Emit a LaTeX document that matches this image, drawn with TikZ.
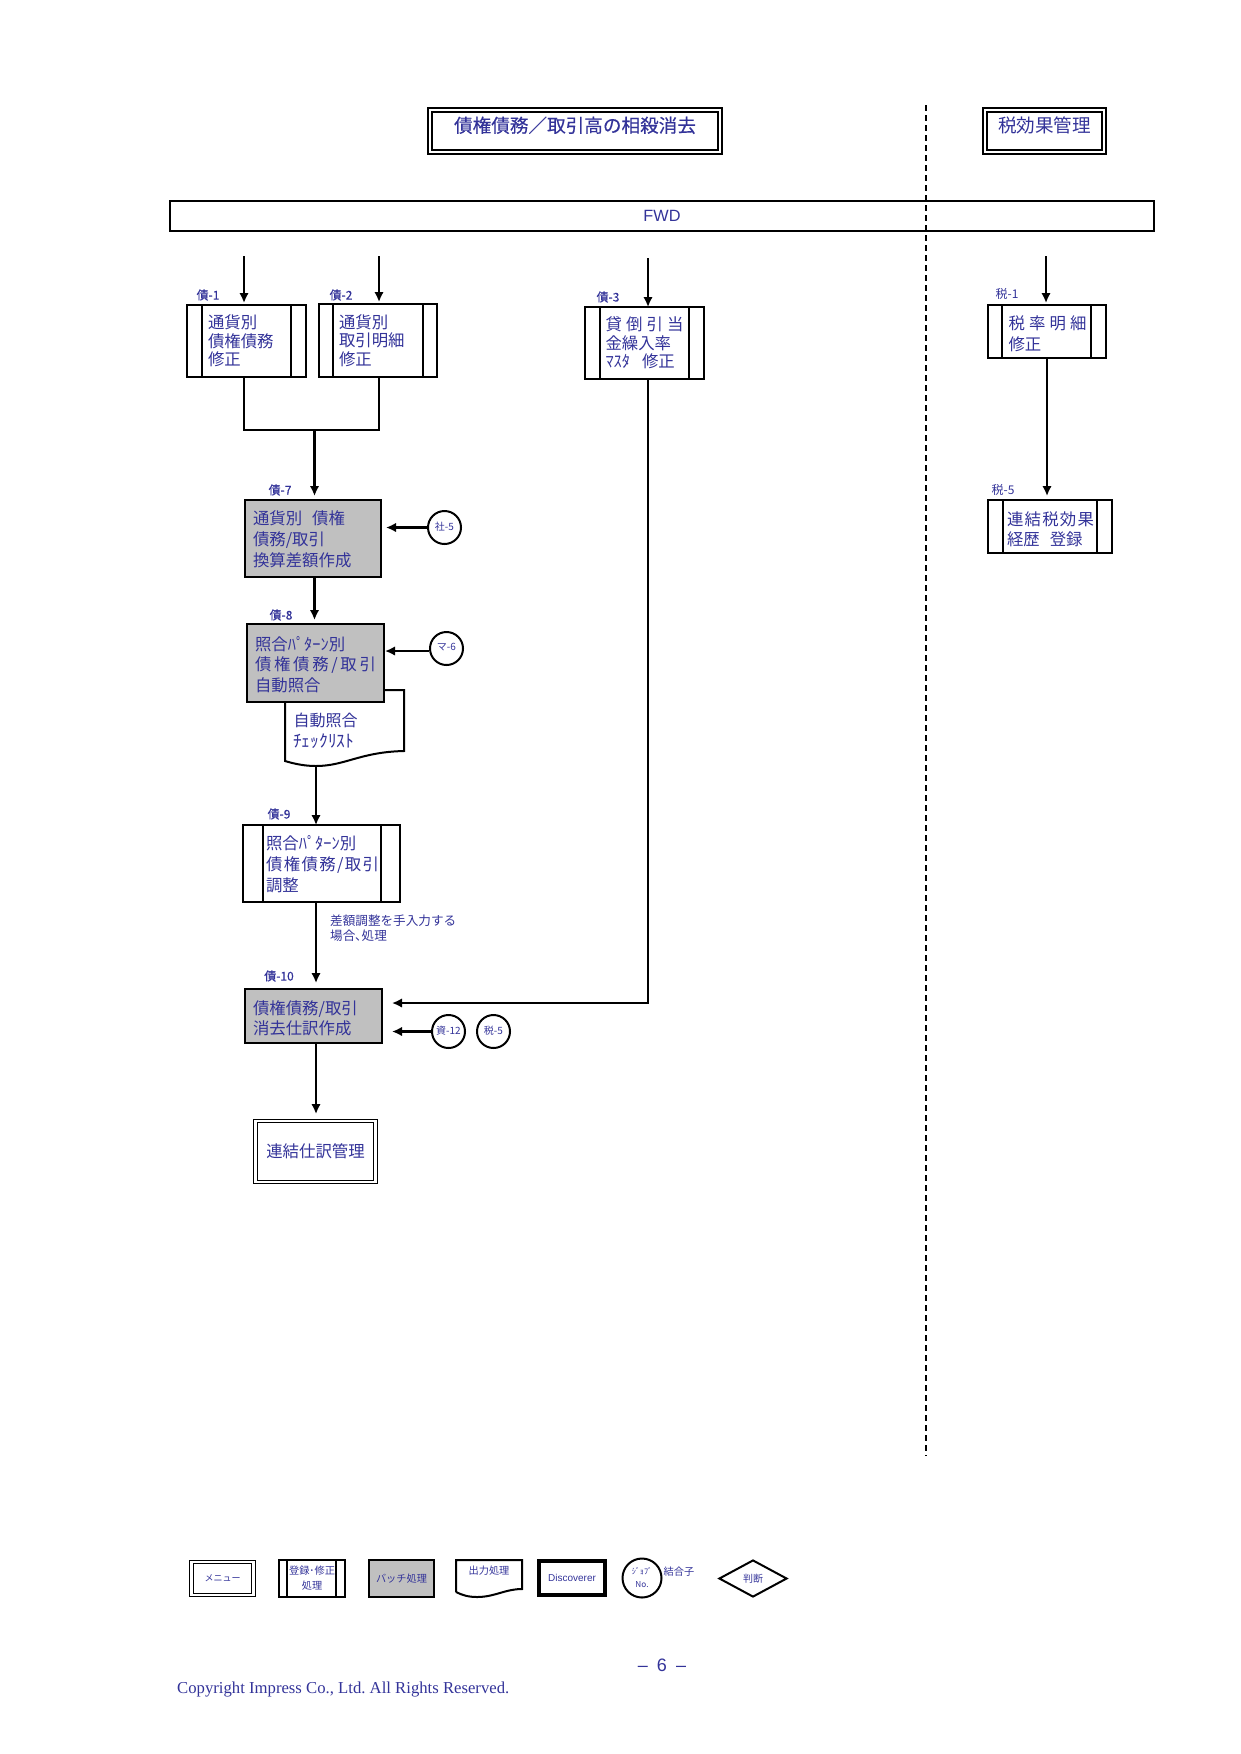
\documentclass[tikz,border=0pt]{standalone}
\usepackage{fontspec}
\setmainfont{Noto Sans CJK JP}
\newfontfamily\latfont{Liberation Sans}
\newfontfamily\serfont{Liberation Serif}
\newfontfamily\semib[FakeBold=0.35]{Noto Sans CJK JP}
\usetikzlibrary{arrows.meta,shapes.geometric,calc}
\definecolor{ink}{HTML}{333399}
\definecolor{batch}{HTML}{C0C0C0}
\newcommand\dn[1]{\rule{0pt}{#1pt}}
\tikzset{
  x=1pt,y=-1pt,
  arr/.style={draw=black,line width=2.3pt,-{Latex[length=10pt,width=9.5pt]}},
  plain/.style={draw=black,line width=2pt},
  boxbase/.style={rectangle,draw=black,line width=2.5pt,text=ink,inner ysep=0pt,outer sep=0pt,
     align=left,font=\fontsize{16.4}{21}\selectfont},
  ls/.style={font=\fontsize{16.4}{#1}\selectfont},
  gray box/.style={fill=batch},
  cen/.style={align=center},
  frame/.style={line width=2pt,double=white,double distance=1.5pt},
  thinframe/.style={line width=1.2pt,double=white,double distance=2.2pt},
  idlabel/.style={text=ink,inner sep=0pt,font=\semib\fontsize{12}{14}\selectfont},
  idplain/.style={text=ink,inner sep=0pt,font=\fontsize{12}{14}\selectfont},
  note/.style={text=ink,inner sep=0pt,align=left,font=\fontsize{12.6}{15}\selectfont},
  jobcircle/.style={circle,draw=black,line width=2pt,minimum size=33pt,inner sep=0pt,text=ink,
     font=\fontsize{10}{11}\selectfont},
  smalltext/.style={text=ink,inner sep=0pt,font=\fontsize{10.2}{13}\selectfont},
  dashdiv/.style={draw=black,line width=1.5pt,dash pattern=on 6pt off 4pt},
}
% [options]{name}{x1}{y1}{x2}{y2}{left inset}{text}
\newcommand\bx[8][]{\node[boxbase,inner xsep=#7pt,text width={#5pt-#3pt-2*#7pt},minimum height={#6pt-#4pt},#1]
  (#2) at ({(#3+#5)/2},{(#4+#6)/2}) {#8};}
% vertical inner lines of a process box
\newcommand\sides[3]{\draw[draw=black,line width=2.2pt] ([xshift=#2pt]#1.north west) -- ([xshift=#2pt]#1.south west)
  ([xshift=-#3pt]#1.north east) -- ([xshift=-#3pt]#1.south east);}
\begin{document}
\begin{tikzpicture}
\useasboundingbox (0,0) rectangle (1241,1754);
% headers
\bx[cen,frame,font=\semib\fontsize{18.6}{22}\selectfont]{title}{430}{110}{720}{152}{4}{\raisebox{13pt}{債権債務／取引高の相殺消去}}
\bx[cen,frame,font=\fontsize{18.6}{22}\selectfont]{taxtitle}{985}{110}{1104}{152}{4}{\raisebox{13pt}{税効果管理}}
\bx[cen,line width=2pt,font=\latfont\fontsize{16.3}{20}\selectfont]{fwd}{170}{201}{1154}{230.5}{4}{FWD}
\coordinate (divtop) at (926,105);
\coordinate (divbot) at (926,1456);
\draw[dashdiv] (divtop) -- (divbot);

% entry points
\coordinate (e1) at (244,256);
\coordinate (e2) at (379,256);
\coordinate (e3) at (648,258);
\coordinate (e4) at (1046,256);
\coordinate (e5) at (1047,430);

% process boxes
\bx[ls=18.6]{k1}{187}{305}{306}{377}{21}{通貨別\\債権債務\\修正}
\sides{k1}{15}{15}
\bx[ls=18.6]{k2}{319}{304}{437}{377}{20}{通貨別\\取引明細\\修正}
\sides{k2}{14}{14}
\bx[ls=18.6]{k3}{585}{307}{704}{379}{20.5}{\mbox{\makebox[78pt][s]{貸\hfil 倒\hfil 引\hfil 当}}\\金繰入率\\\mbox{ﾏｽﾀ\hspace{12pt}修正}}
\sides{k3}{15}{15}
\bx[ls=21.5]{t1}{988}{305}{1106}{358}{20.5}{\dn{18.5}\mbox{\makebox[78pt][s]{税\hfil 率\hfil 明\hfil 細}}\\修正}
\sides{t1}{14}{15}
\bx[ls=20]{t5}{988}{500}{1112}{553}{19}{\dn{18.5}\mbox{\makebox[87pt][s]{連\hfil 結\hfil 税\hfil 効\hfil 果}}\\\mbox{経歴\hspace{10pt}登録}}
\sides{t5}{15}{15}
\node[idlabel] (lk1) at (208,295) {債-1};
\node[idlabel] (lk2) at (341,295) {債-2};
\node[idlabel] (lk3) at (608,297) {債-3};
\node[idlabel] (lk7) at (280,490) {債-7};
\node[idlabel] (lk8) at (281,615) {債-8};
\node[idlabel] (lk9) at (279,814) {債-9};
\node[idlabel] (lk10) at (279,976) {債-10};
\node[idplain] (lt1) at (1007,294) {税-1};
\node[idplain] (lt5) at (1003,490) {税-5};

% entry arrows
\draw[arr,shorten >=2pt] (e1) -- (e1 |- k1.north);
\draw[arr,shorten >=2pt] (e2) -- (e2 |- k2.north);
\draw[arr] (e3) -- (e3 |- k3.north);
\draw[arr,shorten >=2pt] (e4) -- (e4 |- t1.north);

\bx[gray box]{k7}{245}{500}{381}{577}{8}{\dn{16.4}\mbox{通貨別\hspace{10pt}債権}\\債務/取引\\換算差額作成}

% output document behind the batch box
\coordinate (dtl) at (285,702);
\coordinate (dtr) at (384,690);
\coordinate (dr) at (404,690);
\coordinate (dbr) at (404,751);
\coordinate (dbl) at (285,761);
\coordinate (dbm) at (316,766);
\draw[plain,fill=white] (dtr) -- (dr) -- (dbr) .. controls (360,752) and (345,766) .. (dbm)
   .. controls (305,766) and (295,764) .. (dbl) -- (dtl);
\node[text=ink,inner sep=0pt,anchor=west,font=\fontsize{16}{19}\selectfont] (d8a) at (293.5,720) {自動照合};
\node[text=ink,inner sep=0pt,anchor=west,font=\fontsize{17.5}{19}\selectfont] (d8b) at (293,741) {ﾁｪｯｸﾘｽﾄ};

\bx[gray box,ls=20.5]{k8}{247}{624}{384}{702}{8}{\dn{16.4}照合ﾊﾟﾀｰﾝ別\\\mbox{\makebox[121pt][s]{債\hfil 権\hfil 債\hfil 務\hfil /\hfil 取\hfil 引}}\\自動照合}
\bx{k9}{243}{825}{400}{902}{23}{\dn{15.4}照合ﾊﾟﾀｰﾝ別\\\mbox{\makebox[113pt][s]{債\hfil 権\hfil 債\hfil 務\hfil /\hfil 取\hfil 引}}\\調整}
\sides{k9}{20}{19}
\bx[gray box,ls=20.5]{k10}{245}{989}{382}{1043}{8}{\dn{18.5}債権債務/取引\\消去仕訳作成}
\bx[cen,thinframe]{jm}{255.5}{1121}{375.5}{1182}{4}{連結仕訳管理}

% connector circles
\node[jobcircle] (c1) at (444.5,527.5) {\raisebox{3pt}{社-5}};
\node[jobcircle] (c2) at (446.5,648.5) {\raisebox{3pt}{マ-6}};
\node[jobcircle] (c3) at (448.5,1031.5) {\raisebox{3pt}{資-12}};
\node[jobcircle] (c4) at (493.5,1031.5) {\raisebox{3pt}{税-5}};

% merge and flow
\coordinate (mx) at (314.5,430);
\coordinate (x3) at (648,1003);
\draw[plain] (e1 |- k1.south) -- (e1 |- mx) -- (e2 |- mx) -- (e2 |- k2.south);
\draw[arr,shorten >=4pt] (mx) -- (mx |- k7.north);
\draw[arr,shorten >=4pt] (mx |- k7.south) -- (mx |- k8.north);
\draw[arr] (dbm) -- (dbm |- k9.north);
\draw[arr,shorten >=6pt] (dbm |- k9.south) -- (dbm |- k10.north);
\draw[arr,shorten >=7pt] (dbm |- k10.south) -- (dbm |- jm.north);
\draw[arr,shorten >=10pt] (e3 |- k3.south) -- (x3) -- (x3 -| k10.east);
\draw[arr,shorten >=5pt] (c1.west) -- (c1.west -| k7.east);
\draw[arr,shorten >=1pt] (c2.west |- 0,651) -- (k8.east |- 0,651);
\draw[arr,shorten >=10pt] (c3.west) -- (c3.west -| k10.east);
\draw[arr,shorten >=4pt] (e5 |- t1.south) -- (e5 |- t5.north);
\node[note,anchor=north west] (n1) at (330,915) {差額調整を手入力する\\場合､処理};

% legend
\bx[cen,thinframe,font=\fontsize{9}{11}\selectfont]{lg1}{191.5}{1562}{253.5}{1595}{2}{メニュー}
\bx[cen,line width=2pt,font=\fontsize{10.2}{15}\selectfont]{lg2}{279}{1560}{345}{1597}{0}{登録･修正\\処理}
\draw[draw=black,line width=2pt] ([xshift=8pt]lg2.north west) -- ([xshift=8pt]lg2.south west)
  ([xshift=-9pt]lg2.north east) -- ([xshift=-9pt]lg2.south east);
\bx[cen,gray box,line width=2pt,font=\fontsize{10.2}{13}\selectfont]{lg3}{369}{1560}{434}{1597}{2}{バッチ処理}
\coordinate (o1) at (456,1560);
\coordinate (o2) at (522,1560);
\coordinate (o3) at (522,1589);
\coordinate (o4) at (456,1592);
\draw[plain] (o4) -- (o1) -- (o2) -- (o3) .. controls (505,1589) and (495,1597) .. (477,1597)
  .. controls (468,1597) and (462,1595) .. (o4);
\node[smalltext] (lg4) at (489,1571) {出力処理};
\bx[cen,line width=4pt,font=\latfont\fontsize{10}{12}\selectfont]{lg5}{539}{1561}{605}{1595}{2}{\raisebox{-2pt}{Discoverer}}
\node[circle,draw=black,line width=2pt,minimum size=39pt,inner sep=0pt,text=ink,align=center,
  font=\fontsize{8.2}{13}\selectfont] (lg6) at (642,1578) {ｼﾞｮﾌﾞ\\No.};
\node[smalltext] (lg7) at (679,1572) {結合子};
\node[diamond,aspect=1.84,draw=black,line width=2pt,minimum width=68pt,minimum height=37pt,inner sep=0pt,
  text=ink,font=\fontsize{10}{12}\selectfont] (lg8) at (753,1578.5) {判断};

% footer
\node[text=ink,inner sep=0pt,font=\latfont\fontsize{18}{20}\selectfont] (pg) at (662,1665) {–\hspace{9pt}6\hspace{9pt}–};
\node[text=ink,inner sep=0pt,anchor=west,font=\serfont\fontsize{16.7}{18}\selectfont] (cr) at (177,1689) {\frenchspacing Copyright Impress Co., Ltd. All Rights Reserved.};
\end{tikzpicture}
\end{document}
